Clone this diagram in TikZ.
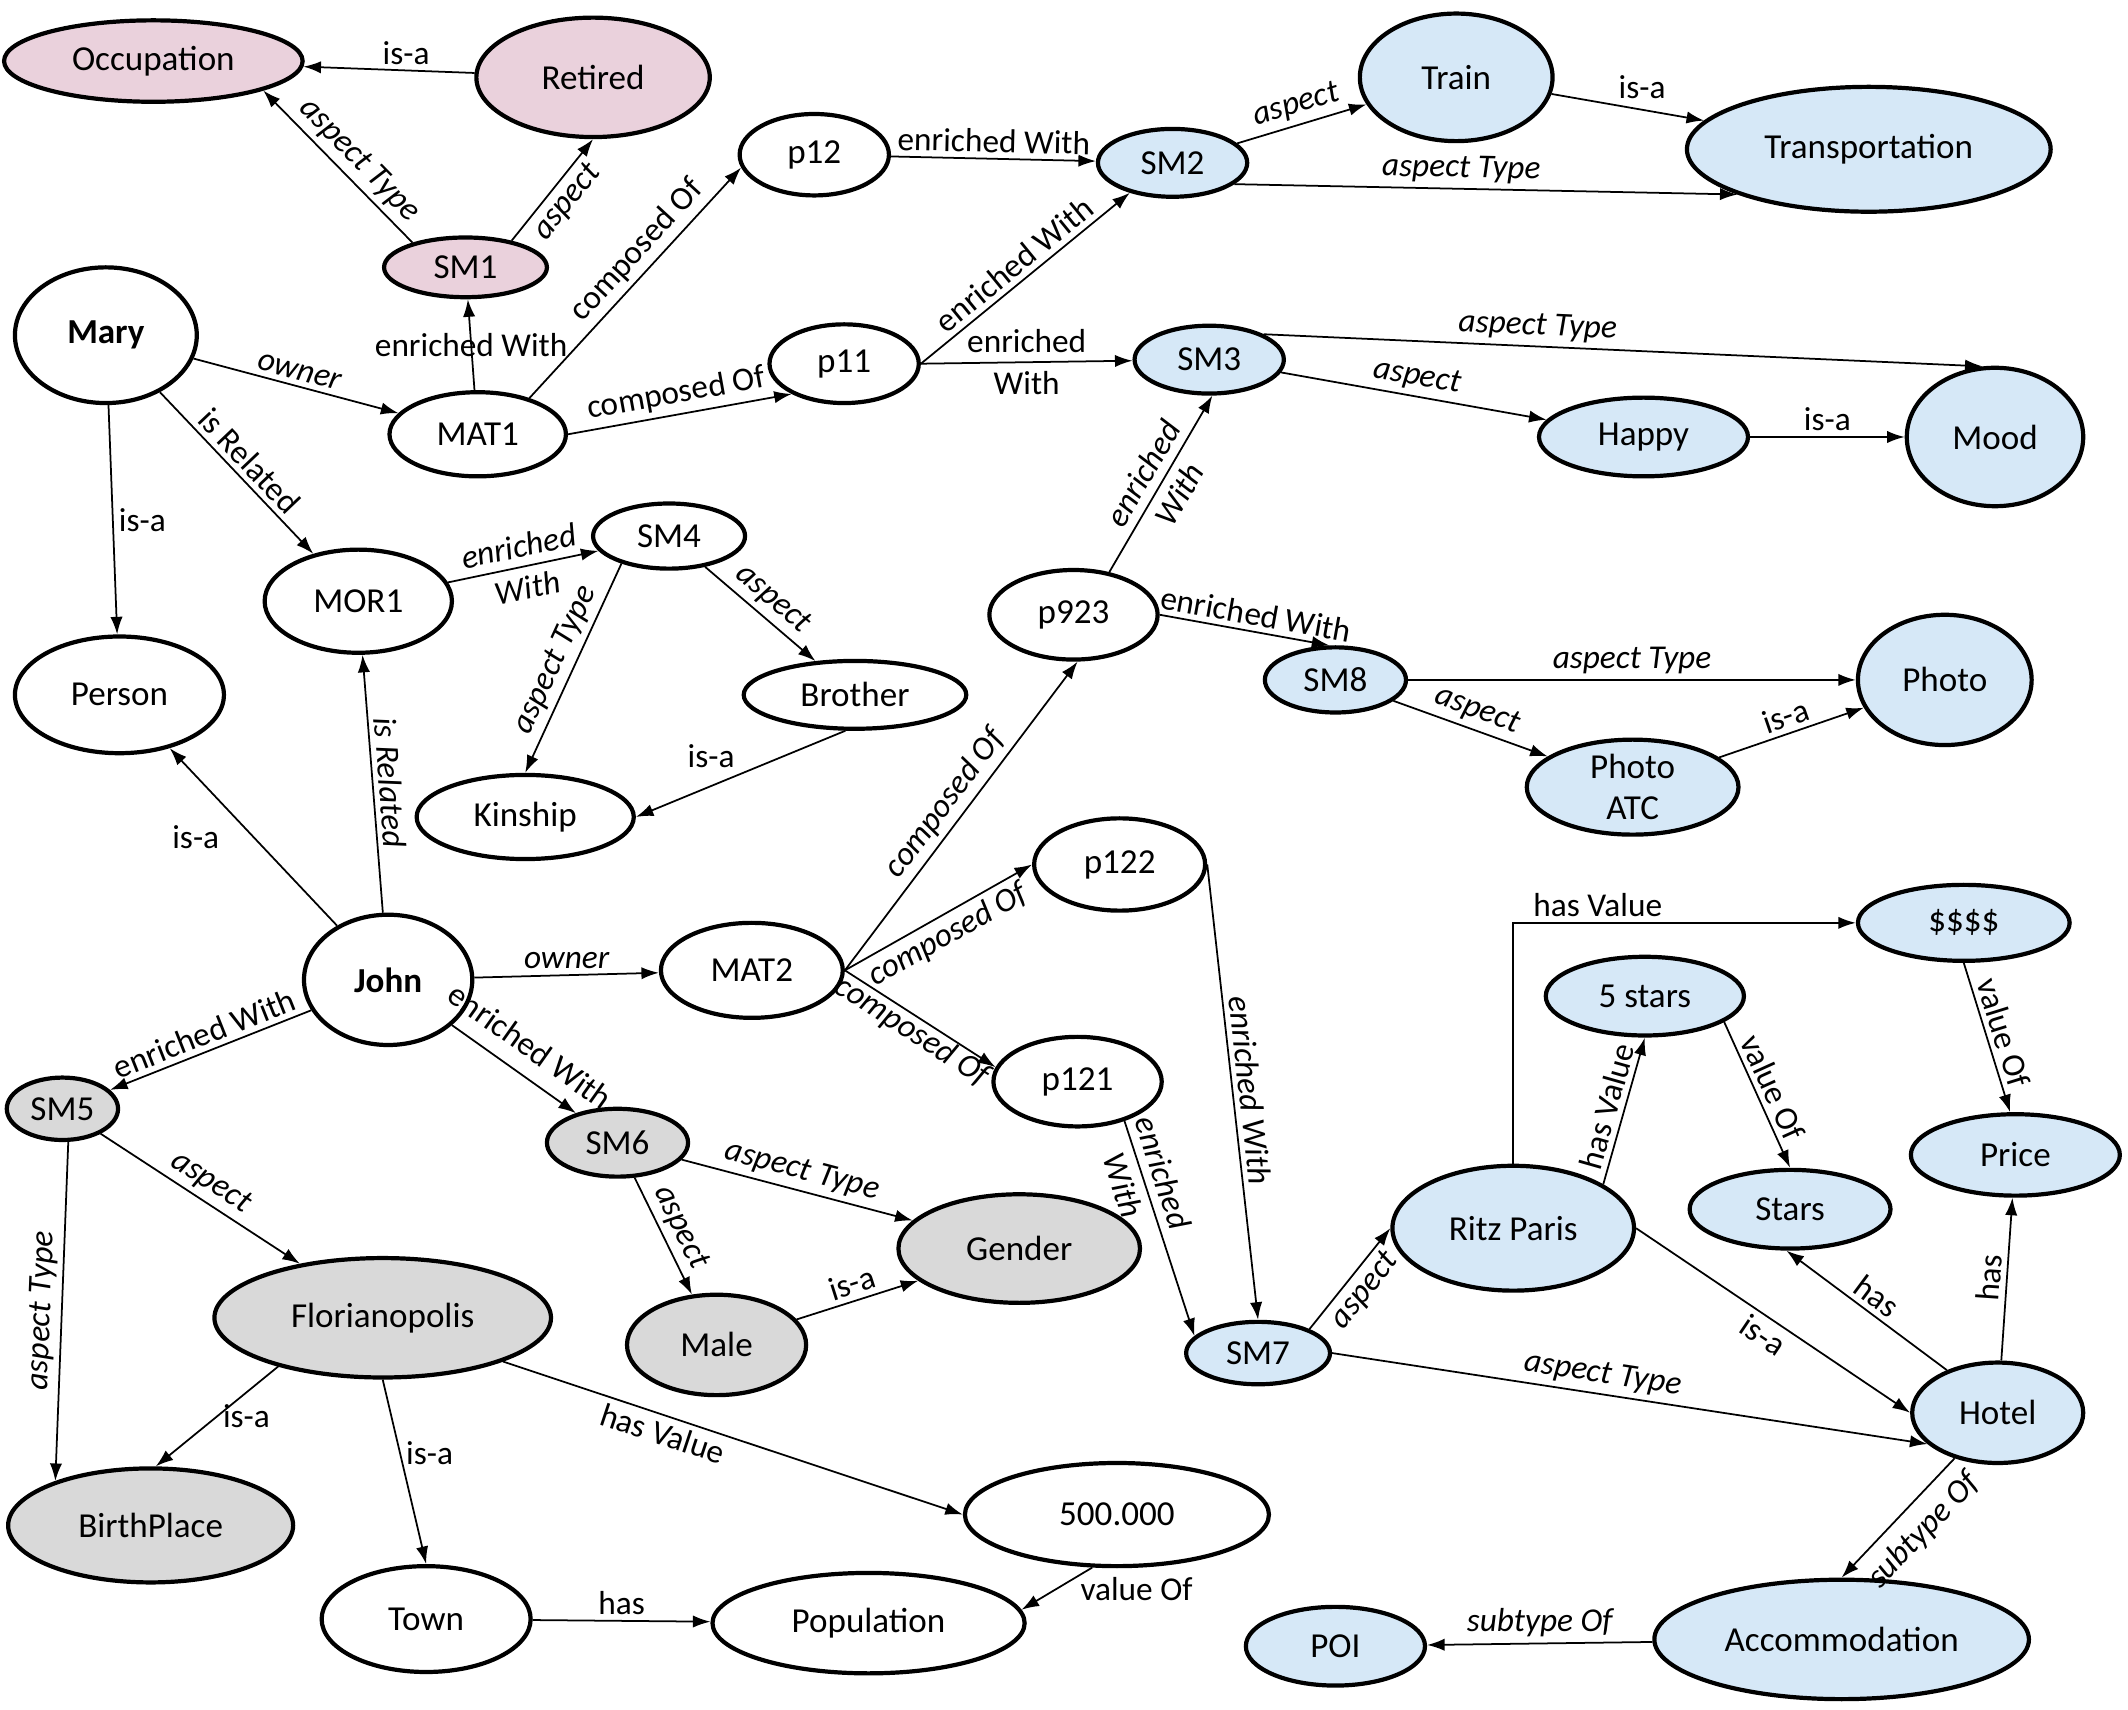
\documentclass[tikz,border=0pt]{standalone}
\usepackage{fontspec}
\setmainfont{Carlito}
\usetikzlibrary{shapes.geometric, arrows.meta}

\definecolor{pinkfill}{HTML}{EAD1DC}
\definecolor{bluefill}{HTML}{D6E8F7}
\definecolor{greyfill}{HTML}{D9D9D9}

\tikzset{
  ent/.style={ellipse, draw, line width=1.2pt, inner sep=0pt, align=center, font=\fontsize{10}{11.6}\selectfont},
  esize/.style 2 args={minimum width=#1*0.272mm, minimum height=#2*0.272mm},
  pinkent/.style={ent, fill=pinkfill},
  blueent/.style={ent, fill=bluefill},
  greyent/.style={ent, fill=greyfill},
  whiteent/.style={ent, fill=white},
  rel/.style={->, line width=0.5pt},
  lbl/.style={font=\fontsize{9.5}{12}\selectfont, inner sep=1.5pt},
  ilbl/.style={lbl, font=\fontsize{9.5}{12}\selectfont\itshape},
  >={Latex[length=5pt, width=3.5pt]},
}

\begin{document}
\begin{tikzpicture}[x=0.136mm, y=-0.136mm]
\useasboundingbox (0,0) rectangle (1568,1260);

% pink
\node[pinkent, esize={110}{30}] (occ) at (113,45) {Occupation};
\node[pinkent, esize={86}{44}] (ret) at (437,57) {Retired};
\node[pinkent, esize={60}{22}] (sm1) at (343,197) {SM1};

% white
\node[whiteent, esize={67}{50}] (mary) at (78,247) {\textbf{Mary}};
\node[whiteent, esize={65}{31}] (mat1) at (352,320) {MAT1};
\node[whiteent, esize={55}{30}] (p12) at (600,114) {p12};
\node[whiteent, esize={55}{29}] (p11) at (622,268) {p11};
\node[whiteent, esize={69}{38}] (mor1) at (264,443) {MOR1};
\node[whiteent, esize={56}{24}] (sm4) at (493,395) {SM4};
\node[whiteent, esize={77}{43}] (person) at (88,512) {Person};
\node[whiteent, esize={82}{25}] (brother) at (630,512) {Brother};
\node[whiteent, esize={80}{31}] (kinship) at (387,602) {Kinship};
\node[whiteent, esize={62}{33}] (p923) at (791,453) {p923};
\node[whiteent, esize={62}{48}] (john) at (286,722) {\textbf{John}};
\node[whiteent, esize={67}{35}] (mat2) at (554,715) {MAT2};
\node[whiteent, esize={63}{34}] (p122) at (825,637) {p122};
\node[whiteent, esize={62}{33}] (p121) at (794,797) {p121};
\node[whiteent, esize={112}{38}] (val500) at (823,1116) {500.000};
\node[whiteent, esize={77}{39}] (town) at (314,1193) {Town};
\node[whiteent, esize={115}{37}] (popul) at (640,1196) {Population};

% grey
\node[greyent, esize={41}{23}] (sm5) at (46,817) {SM5};
\node[greyent, esize={52}{25}] (sm6) at (455,842) {SM6};
\node[greyent, esize={124}{44}] (floria) at (282,971) {Florianopolis};
\node[greyent, esize={89}{40}] (gender) at (751,920) {Gender};
\node[greyent, esize={66}{37}] (male) at (528,991) {Male};
\node[greyent, esize={105}{42}] (birth) at (111,1124) {BirthPlace};

% blue
\node[blueent, esize={55}{25}] (sm2) at (864,120) {SM2};
\node[blueent, esize={71}{47}] (train) at (1073,57) {Train};
\node[blueent, esize={134}{46}] (transp) at (1377,110) {Transportation};
\node[blueent, esize={55}{25}] (sm3) at (891,265) {SM3};
\node[blueent, esize={77}{29}] (happy) at (1211,322) {Happy};
\node[blueent, esize={65}{51}] (mood) at (1470,322) {Mood};
\node[blueent, esize={52}{24}] (sm8) at (984,501) {SM8};
\node[blueent, esize={64}{48}] (photo) at (1433,501) {Photo};
\node[blueent, esize={78}{35}] (photoatc) at (1203,580) {Photo\\ATC};
\node[blueent, esize={78}{28}] (dollar) at (1447,680) {\$\$\$\$};
\node[blueent, esize={73}{29}] (fivest) at (1212,734) {5 stars};
\node[blueent, esize={77}{30}] (price) at (1485,851) {Price};
\node[blueent, esize={74}{29}] (stars) at (1319,891) {Stars};
\node[blueent, esize={89}{46}] (ritz) at (1115,905) {Ritz Paris};
\node[blueent, esize={53}{23}] (sm7) at (927,997) {SM7};
\node[blueent, esize={63}{37}] (hotel) at (1472,1041) {Hotel};
\node[blueent, esize={138}{44}] (accom) at (1357,1208) {Accommodation};
\node[blueent, esize={66}{29}] (poi) at (984,1213) {POI};

% Mary
\draw[rel] (ret) -- (occ) node[lbl, pos=.4, above] {is-a};
\draw[rel] (sm1.155) -- (occ.-15) node[ilbl, pos=.45, sloped, above] {aspect Type};
\draw[rel] (sm1.30) -- (ret.south) node[ilbl, midway, sloped, below] {aspect};
\draw[rel] (mat1) -- (sm1) node[lbl, midway] {enriched With};
\draw[rel] (mary) -- (mat1) node[ilbl, midway, sloped, above] {owner};
\draw[rel] (mat1.35) -- (p12.190) node[lbl, pos=.58, sloped, above] {composed Of};
\draw[rel] (mat1.east) -- (p11.210) node[lbl, midway, sloped, above] {composed Of};
\draw[rel] (p12) -- (sm2) node[lbl, midway, sloped, above] {enriched With};
\draw[rel] (p11.east) -- (sm2.215) node[lbl, midway, sloped, above] {enriched With};
\draw[rel] (p11.east) -- (sm3) node[lbl, midway, align=center] {enriched\\With};
\draw[rel] (sm2) -- (train) node[ilbl, midway, sloped, above] {aspect};
\draw[rel] (sm2.-19) -- (transp.199) node[ilbl, pos=.45, sloped, above] {aspect Type};
\draw[rel] (train) -- (transp) node[lbl, pos=.4, above right] {is-a};
\draw[rel] (sm3.25) -- (mood.100) node[ilbl, pos=.38, sloped, above] {aspect Type};
\draw[rel] (sm3) -- (happy) node[ilbl, midway, sloped, above] {aspect};
\draw[rel] (happy) -- (mood) node[lbl, midway, above] {is-a};
\draw[rel] (mary) -- (person) node[lbl, midway, right] {is-a};
\draw[rel] (mary) -- (mor1) node[lbl, midway, sloped, above] {is Related};
\draw[rel] (mor1) -- (sm4) node[ilbl, midway, sloped, align=center] {enriched\\With};
\draw[rel] (sm4.210) -- (kinship.north) node[ilbl, midway, sloped, above] {aspect Type};
\draw[rel] (sm4) -- (brother) node[ilbl, midway, sloped, above] {aspect};
\draw[rel] (brother.-105) -- (kinship.east) node[lbl, midway, above left] {is-a};

% John
\draw[rel] (john) -- (person) node[lbl, midway, left=8pt] {is-a};
\draw[rel] (john) -- (mor1) node[ilbl, midway, sloped, above] {is Related};
\draw[rel] (john) -- (mat2) node[ilbl, midway, above] {owner};
\draw[rel] (mat2.east) -- (p923.-85) node[ilbl, midway, sloped, above] {composed Of};
\draw[rel] (mat2.east) -- (p122.west) node[ilbl, midway, sloped, below] {composed Of};
\draw[rel] (mat2.east) -- (p121.170) node[ilbl, midway, sloped, below, inner sep=0pt] {composed Of};
\draw[rel] (p923.50) -- (sm3.-85) node[ilbl, midway, sloped, align=center] {enriched\\With};
\draw[rel] (p923.east) -- (sm8.100) node[lbl, pos=.55, sloped, above] {enriched With};
\draw[rel] (sm8) -- (photo) node[ilbl, midway, above] {aspect Type};
\draw[rel] (sm8) -- (photoatc) node[ilbl, midway, sloped, above] {aspect};
\draw[rel] (photoatc) -- (photo) node[lbl, midway, sloped, above] {is-a};
\draw[rel] (p122.east) -- (sm7.north) node[ilbl, midway, sloped, above] {enriched With};
\draw[rel] (p121.-40) -- (sm7.165) node[ilbl, pos=.27, sloped, align=center] {enriched\\With};
\draw[rel] (john) -- (sm5) node[lbl, midway, sloped, above] {enriched With};
\draw[rel] (john) -- (sm6) node[lbl, pos=.5, sloped, above=3pt] {enriched With};
\draw[rel] (sm5.-80) -- (birth.155) node[ilbl, midway, sloped, above] {aspect Type};
\draw[rel] (sm5) -- (floria) node[ilbl, midway, sloped, above] {aspect};
\draw[rel] (sm6) -- (gender) node[ilbl, midway, sloped, above] {aspect Type};
\draw[rel] (sm6) -- (male) node[ilbl, midway, sloped, above] {aspect};
\draw[rel] (male) -- (gender) node[lbl, midway, sloped, above] {is-a};
\draw[rel] (floria.205) -- (birth.85) node[lbl, midway, right] {is-a};
\draw[rel] (floria.south) -- (town.north) node[lbl, pos=.4, right] {is-a};
\draw[rel] (floria.-20) -- (val500.west) node[lbl, pos=.36, sloped, below] {has Value};
\draw[rel] (town) -- (popul) node[lbl, midway, above] {has};
\draw[rel] (val500.-115) -- (popul.5) node[lbl, midway, right=5pt] {value Of};

% hotel
\draw[rel] (sm7.25) -- (ritz.west) node[ilbl, midway, sloped, below] {aspect};
\draw[rel] (sm7.east) -- (hotel.204) node[ilbl, pos=.45, sloped, above] {aspect Type};
\draw[rel] (ritz.east) -- (hotel.west) node[lbl, midway, sloped, below] {is-a};
\draw[rel] (ritz.north) |- (dollar) node[lbl, pos=.5, above right, xshift=4pt] {has Value};
\draw[rel] (ritz.26) -- (fivest.south) node[lbl, midway, sloped, above] {has Value};
\draw[rel] (fivest.-18) -- (stars.north) node[lbl, midway, sloped, above] {value Of};
\draw[rel] (dollar.-90) -- (price.97) node[lbl, midway, sloped, above] {value Of};
\draw[rel] (hotel.140) -- (stars.-95) node[lbl, midway, sloped, above] {has};
\draw[rel] (hotel) -- (price) node[lbl, midway, sloped, above] {has};
\draw[rel] (hotel) -- (accom.north) node[ilbl, pos=.45, sloped, below=2pt] {subtype Of};
\draw[rel] (accom) -- (poi) node[ilbl, midway, above] {subtype Of};

\end{tikzpicture}
\end{document}
